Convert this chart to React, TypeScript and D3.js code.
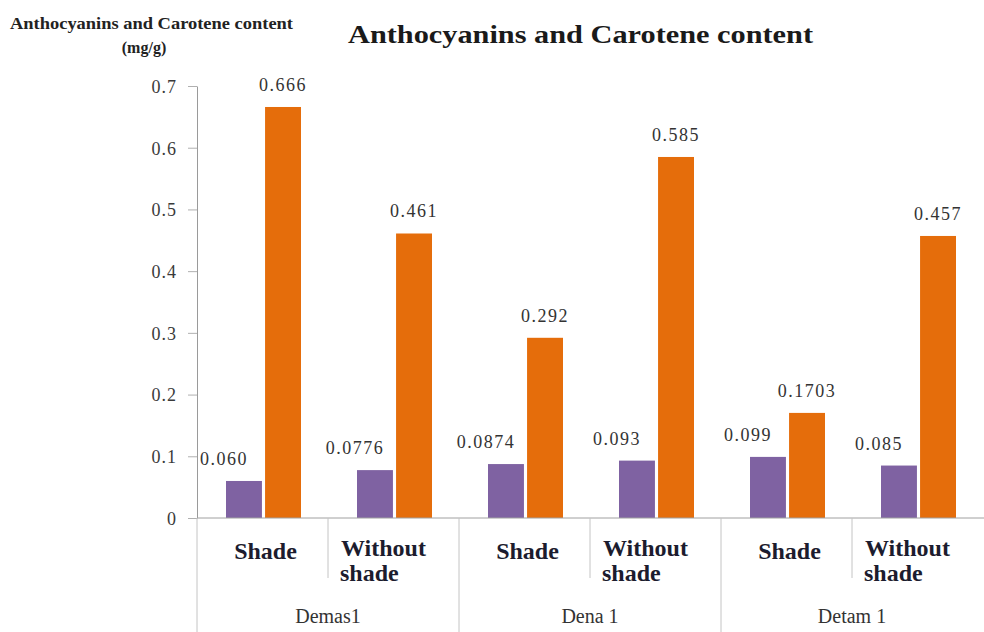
import React, { useEffect, useRef } from 'react'
import * as d3 from 'd3'

const width = 984
const height = 632
const margin = { top: 86, right: 1, bottom: 114, left: 197 }

const groups = ['Demas1', 'Dena 1', 'Detam 1']
const categories = ['Shade', 'Without shade', 'Shade', 'Without shade', 'Shade', 'Without shade']
const anthocyanins = [0.06, 0.0776, 0.0874, 0.093, 0.099, 0.085]
const carotene = [0.666, 0.461, 0.292, 0.585, 0.1703, 0.457]
const anthoLabels = ['0.060', '0.0776', '0.0874', '0.093', '0.099', '0.085']
const caroteneLabels = ['0.666', '0.461', '0.292', '0.585', '0.1703', '0.457']
const yTicks = [0, 0.1, 0.2, 0.3, 0.4, 0.5, 0.6, 0.7]
const seriesColors = ['#7f62a2', '#e56d0b']

const serif = '"Liberation Serif", "Times New Roman", serif'

export default function App() {
  const axisRef = useRef<SVGGElement>(null)

  const x = d3.scaleBand<number>()
    .domain(categories.map((_, i) => i))
    .range([margin.left, width - margin.right])
  const x1 = d3.scaleBand<string>()
    .domain(['a', 'c'])
    .range([29, 104])
    .paddingInner(0.08)
  const y = d3.scaleLinear().domain([0, 0.7]).range([height - margin.bottom, margin.top])
  const base = y(0)

  useEffect(() => {
    const g = d3.select(axisRef.current)
    g.selectAll('*').remove()
    const yAxis = d3.axisLeft(y).tickValues(yTicks).tickSize(9).tickSizeOuter(0)
      .tickFormat(d => d3.format('')(+d))
    g.call(yAxis)
    g.select('.domain').attr('stroke', '#9a9a9a')
    g.selectAll('.tick line').attr('stroke', '#b0b0b0')
    g.selectAll('.tick text')
      .attr('x', -20)
      .attr('dy', '0.35em')
      .attr('fill', '#3a3a3a')
      .attr('font-family', serif)
      .attr('font-size', 18)
      .attr('letter-spacing', 1)
  }, [])

  const bw = x.bandwidth()

  return (
    <svg width={width} height={height} style={{ position: 'absolute', left: 0, top: 0, background: '#fff' }}>
      {/* titles */}
      <text x={348} y={43} fontFamily={serif} fontWeight="bold" fontSize={26} fill="#1a1a1a"
        textLength={465} lengthAdjust="spacingAndGlyphs">Anthocyanins and Carotene content</text>
      <text x={10} y={29} fontFamily={serif} fontWeight="bold" fontSize={16} fill="#222"
        textLength={283} lengthAdjust="spacingAndGlyphs">Anthocyanins and Carotene content</text>
      <text x={144} y={53} textAnchor="middle" fontFamily={serif} fontWeight="bold" fontSize={16} fill="#222">(mg/g)</text>

      {/* bars */}
      {categories.map((_, i) => (
        <g key={i} transform={`translate(${x(i)},0)`}>
          <rect x={x1('a')} width={x1.bandwidth()} y={y(anthocyanins[i])} height={base - y(anthocyanins[i])} fill={seriesColors[0]} />
          <rect x={x1('c')} width={x1.bandwidth()} y={y(carotene[i])} height={base - y(carotene[i])} fill={seriesColors[1]} />
          <text x={(x1('a') as number) + x1.bandwidth() / 2 - 20} y={y(anthocyanins[i]) - 16} textAnchor="middle"
            fontFamily={serif} fontSize={18} letterSpacing={1.5} fill="#333">{anthoLabels[i]}</text>
          <text x={(x1('c') as number) + x1.bandwidth() / 2} y={y(carotene[i]) - 16} textAnchor="middle"
            fontFamily={serif} fontSize={18} letterSpacing={1.5} fill="#333">{caroteneLabels[i]}</text>
        </g>
      ))}

      {/* y axis */}
      <g ref={axisRef} transform={`translate(${margin.left},0)`} />

      {/* category axis */}
      <line x1={margin.left} x2={width} y1={base} y2={base} stroke="#a0a0a0" />
      {categories.map((c, i) => {
        const x0 = x(i) as number
        const lines = c.split(' ')
        return (
          <g key={'c' + i}>
            {i % 2 === 1 && <line x1={x0} x2={x0} y1={base} y2={base + 60} stroke="#c4c4c4" />}
            {lines.length === 1 ? (
              <text x={x0 + bw / 2 + 3} y={559} textAnchor="middle" fontFamily={serif} fontWeight="bold" fontSize={24} fill="#1c1c2e">{c}</text>
            ) : (
              <text fontFamily={serif} fontWeight="bold" fontSize={24} fill="#1c1c2e">
                <tspan x={x0 + 13} y={556}>{lines[0]}</tspan>
                <tspan x={x0 + 12} y={581}>{lines[1]}</tspan>
              </text>
            )}
          </g>
        )
      })}
      {groups.map((gname, j) => {
        const gx = x(j * 2) as number
        return (
          <g key={'g' + j}>
            <line x1={gx} x2={gx} y1={base} y2={height} stroke="#c4c4c4" />
            <text x={gx + bw} y={623} textAnchor="middle" fontFamily={serif} fontSize={20} fill="#333">{gname}</text>
          </g>
        )
      })}
    </svg>
  )
}
